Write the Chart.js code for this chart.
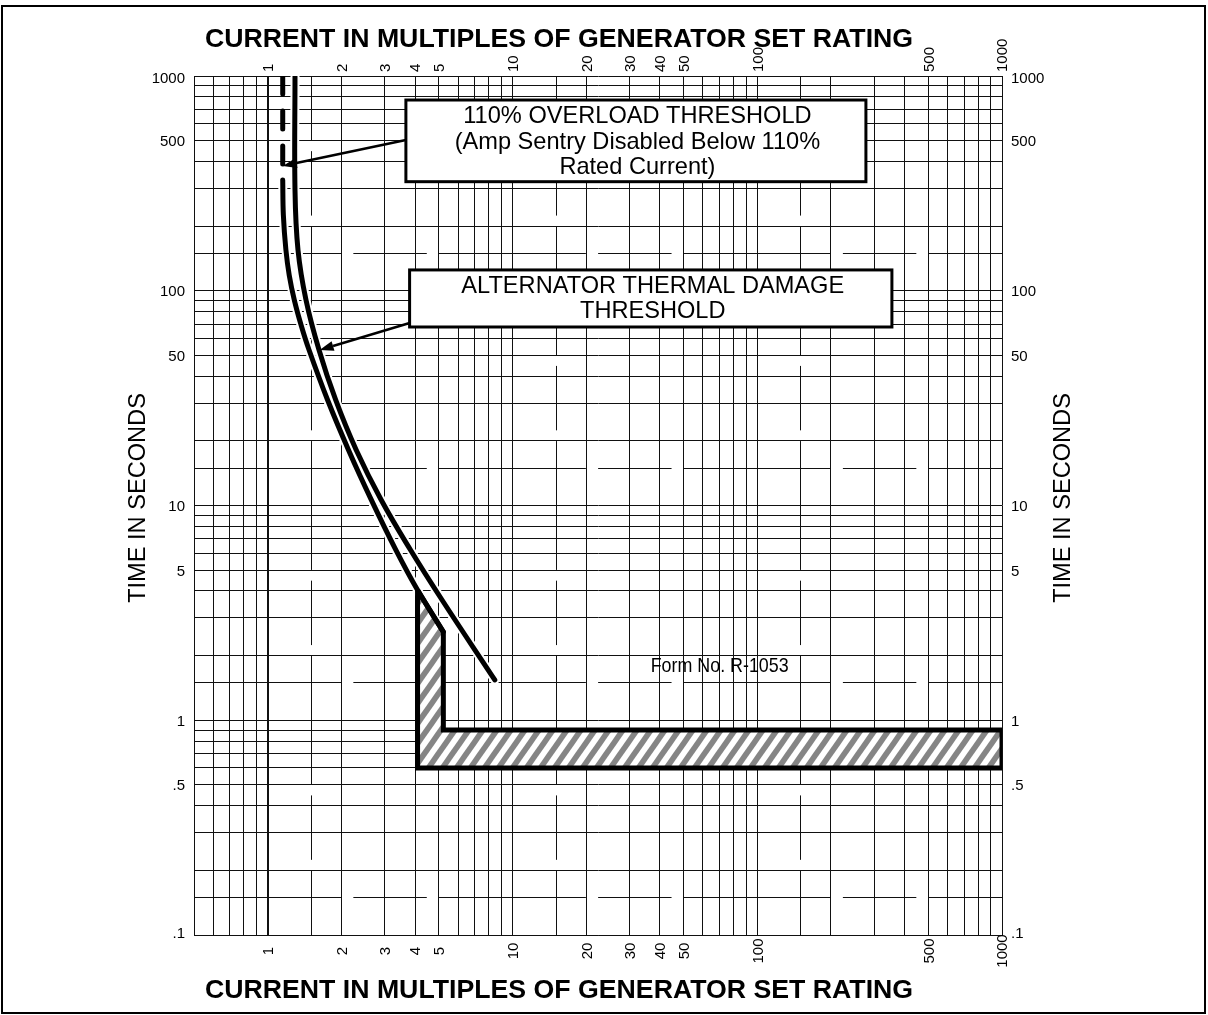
<!DOCTYPE html>
<html>
<head>
<meta charset="utf-8">
<title>Amp Sentry Time-Current Characteristic</title>
<script src="https://cdn.jsdelivr.net/npm/chart.js@4.4.1/dist/chart.umd.min.js"></script>
<style>
  html, body { margin: 0; padding: 0; background: #fff; }
  #wrap { position: relative; width: 1208px; height: 1015px; }
</style>
</head>
<body>
<div id="wrap"><canvas id="tcc" width="1208" height="1015"></canvas></div>
<script>
// log-log paper ranges
var xMin = 0.5, xMax = 1000;
var yMin = 0.1, yMax = 1000;

// grid lines of the paper
var xGrid = [0.5, 0.6, 0.7, 0.8, 0.9, 1, 2, 3, 4, 5, 6, 7, 8, 9, 10, 20, 30, 40, 50, 60, 70, 80, 90,
  100, 200, 300, 400, 500, 600, 700, 800, 900, 1000];
var yGrid = [0.1, 0.2, 0.3, 0.4, 0.5, 0.6, 0.7, 0.8, 0.9, 1, 2, 3, 4, 5, 6, 7, 8, 9, 10, 20, 30, 40, 50,
  60, 70, 80, 90, 100, 200, 300, 400, 500, 600, 700, 800, 900, 1000];
// the 1.5 lines are printed broken
var xHalfLines = [1.5, 15, 150];
var yHalfLines = [0.15, 1.5, 15, 150];

// tick labels
var xTickValues = [1, 2, 3, 4, 5, 10, 20, 30, 40, 50, 100, 500, 1000];
var yTickValues = [1000, 500, 100, 50, 10, 5, 1, 0.5, 0.1];
var yTickText = ["1000", "500", "100", "50", "10", "5", "1", ".5", ".1"];

// 110% overload threshold: dashed at the top, solid below
var overloadDashX = [1.152, 1.152];
var overloadDashY = [1000, 375];
var overloadX = [1.152, 1.159, 1.187, 1.225, 1.285, 1.369, 1.476, 1.757, 2.141, 2.654, 3.342, 4.095, 5.22];
var overloadY = [328, 225, 155, 118, 90.5, 69.3, 53, 31, 18.1, 10.6, 6.2, 4.04, 2.58];

// alternator thermal damage threshold
var damageX = [1.293, 1.293, 1.33, 1.434, 1.621, 1.896, 2.30, 2.91, 3.834, 5.158, 8.468];
var damageY = [1000, 294.5, 154.8, 90.55, 52.98, 31.0, 18.13, 10.61, 6.206, 3.63, 1.54];

// hatched short-circuit trip band
var bandX = [4.095, 5.22, 5.22, 1000, 1000, 4.095, 4.095];
var bandY = [4.04, 2.58, 0.9, 0.9, 0.6, 0.6, 4.04];

var axisTitle = "CURRENT IN MULTIPLES OF GENERATOR SET RATING";
var timeTitle = "TIME IN SECONDS";
var overloadNote = ["110% OVERLOAD THRESHOLD", "(Amp Sentry Disabled Below 110%", "Rated Current)"];
var damageNote = ["ALTERNATOR THERMAL DAMAGE", "THRESHOLD"];
var formNote = "Form No. R-1053";

// callouts, anchored in data units (x multiples, y seconds)
var notes = {
  overload: { box: [3.67, 773, 278, 322], from: [3.67, 504], to: [1.152, 381], base: [23.3, 49.3, 74.3], dx: 1.5 },
  damage: { box: [3.80, 125, 355, 67.8], from: [3.80, 70.8], to: [1.63, 53], base: [22.7, 48.3], dx: 2 },
  form: [36.7, 1.68]
};

var FONT = '"Liberation Sans", Arial, Helvetica, sans-serif';

function pts(xs, ys) {
  return xs.map(function (x, i) { return { x: x, y: ys[i] }; });
}

// diagonal stripes for the trip band
var hatch = (function () {
  var p = 14, h = 20;
  var c = document.createElement('canvas');
  c.width = p; c.height = h;
  var g = c.getContext('2d');
  g.fillStyle = '#fff';
  g.fillRect(0, 0, p, h);
  g.strokeStyle = '#858585';
  g.lineWidth = 5.6;
  for (var k = -1; k <= 1; k++) {
    g.beginPath();
    g.moveTo(k * p - p, 2 * h);
    g.lineTo(k * p + 2 * p, -h);
    g.stroke();
  }
  return g.createPattern(c, 'repeat');
})();

function logGaps(lo, hi) {
  // each decade has two short breaks
  var gaps = [];
  for (var d = Math.floor(lo) - 1; d <= Math.ceil(hi); d++) {
    gaps.push([d + 0.30, d + 0.35]);
    gaps.push([d + 0.65, d + 0.70]);
  }
  return gaps;
}

function brokenLine(ctx, scale, fixed, min, max, vertical) {
  var lo = Math.log10(min), hi = Math.log10(max);
  var gaps = logGaps(lo, hi);
  var start = lo;
  var pieces = [];
  gaps.forEach(function (g) {
    if (g[1] <= lo || g[0] >= hi) return;
    if (g[0] > start) pieces.push([start, g[0]]);
    start = Math.max(start, g[1]);
  });
  if (start < hi) pieces.push([start, hi]);
  var f = Math.round(fixed) + 0.5;
  ctx.beginPath();
  pieces.forEach(function (pc) {
    var a = scale.getPixelForValue(Math.pow(10, pc[0]));
    var b = scale.getPixelForValue(Math.pow(10, pc[1]));
    if (vertical) { ctx.moveTo(f, a); ctx.lineTo(f, b); }
    else { ctx.moveTo(a, f); ctx.lineTo(b, f); }
  });
  ctx.stroke();
}

function arrow(ctx, x0, y0, x1, y1) {
  var ang = Math.atan2(y1 - y0, x1 - x0);
  var len = 14, hw = 5;
  var bx = x1 - len * Math.cos(ang), by = y1 - len * Math.sin(ang);
  ctx.lineWidth = 2.5;
  ctx.beginPath();
  ctx.moveTo(x0, y0);
  ctx.lineTo(bx, by);
  ctx.stroke();
  ctx.beginPath();
  ctx.moveTo(x1, y1);
  ctx.lineTo(bx + hw * Math.sin(ang), by - hw * Math.cos(ang));
  ctx.lineTo(bx - hw * Math.sin(ang), by + hw * Math.cos(ang));
  ctx.closePath();
  ctx.fill();
}

function noteBox(ctx, xs, ys, n, lines) {
  var l = xs.getPixelForValue(n.box[0]), r = xs.getPixelForValue(n.box[2]);
  var t = ys.getPixelForValue(n.box[1]), b = ys.getPixelForValue(n.box[3]);
  ctx.fillStyle = '#fff';
  ctx.fillRect(l, t, r - l, b - t);
  ctx.strokeStyle = '#000';
  ctx.lineWidth = 3;
  ctx.strokeRect(l, t, r - l, b - t);
  ctx.fillStyle = '#000';
  ctx.font = '23.6px ' + FONT;
  ctx.textAlign = 'center';
  ctx.textBaseline = 'alphabetic';
  lines.forEach(function (s, i) {
    ctx.fillText(s, (l + r) / 2 + n.dx, t + n.base[i]);
  });
  arrow(ctx, xs.getPixelForValue(n.from[0]), ys.getPixelForValue(n.from[1]),
    xs.getPixelForValue(n.to[0]), ys.getPixelForValue(n.to[1]));
}

var paper = {
  id: 'paper',
  beforeDatasetsDraw: function (chart) {
    var ctx = chart.ctx, xs = chart.scales.x, ys = chart.scales.y;
    ctx.save();
    ctx.strokeStyle = '#111';
    ctx.lineWidth = 1;
    xHalfLines.forEach(function (v) { brokenLine(ctx, ys, xs.getPixelForValue(v), yMin, yMax, true); });
    yHalfLines.forEach(function (v) { brokenLine(ctx, xs, ys.getPixelForValue(v), xMin, xMax, false); });
    ctx.restore();
  },
  afterDraw: function (chart) {
    var ctx = chart.ctx, xs = chart.scales.x, ys = chart.scales.y, area = chart.chartArea;
    ctx.save();
    ctx.fillStyle = '#000';
    ctx.strokeStyle = '#000';

    // tick labels, 15px
    ctx.font = '15px ' + FONT;
    ctx.textBaseline = 'alphabetic';
    var capH = 15 * 0.716;
    yTickValues.forEach(function (v, i) {
      var py = ys.getPixelForValue(v) + capH / 2;
      if (i === 0) py += 2;
      if (i === yTickValues.length - 1) py -= 2;
      ctx.textAlign = 'right';
      ctx.fillText(yTickText[i], area.left - 9, py);
      ctx.textAlign = 'left';
      ctx.fillText(yTickText[i], area.right + 9, py);
    });
    xTickValues.forEach(function (v) {
      var px = xs.getPixelForValue(v) + capH / 2;
      ctx.save();
      ctx.translate(px, area.bottom + 16);
      ctx.rotate(-Math.PI / 2);
      ctx.textAlign = 'center';
      ctx.fillText(String(v), 0, 0);
      ctx.restore();
      ctx.save();
      ctx.translate(px, area.top - 4);
      ctx.rotate(-Math.PI / 2);
      ctx.textAlign = 'left';
      ctx.fillText(String(v), 0, 0);
      ctx.restore();
    });

    // axis titles
    ctx.font = 'bold 26.7px ' + FONT;
    ctx.textAlign = 'center';
    ctx.fillText(axisTitle, 559, 46.5);
    ctx.fillText(axisTitle, 559, 998);

    ctx.font = '23.6px ' + FONT;
    var midY = (area.top + area.bottom) / 2 - 7.5;
    [area.left - 57, area.right + 60].forEach(function (cx) {
      ctx.save();
      ctx.translate(cx + 23.6 * 0.716 / 2, midY);
      ctx.rotate(-Math.PI / 2);
      ctx.textAlign = 'center';
      ctx.fillText(timeTitle, 0, 0);
      ctx.restore();
    });

    // callouts
    noteBox(ctx, xs, ys, notes.overload, overloadNote);
    noteBox(ctx, xs, ys, notes.damage, damageNote);

    // form number, narrow face
    ctx.font = '21px "Liberation Sans Narrow", ' + FONT;
    ctx.textAlign = 'left';
    var w = ctx.measureText(formNote).width;
    ctx.save();
    ctx.translate(xs.getPixelForValue(notes.form[0]), ys.getPixelForValue(notes.form[1]));
    ctx.scale(138 / w, 1);
    ctx.fillStyle = '#000';
    ctx.fillText(formNote, 0, 0);
    ctx.restore();

    // sheet frame
    ctx.lineWidth = 2;
    ctx.strokeRect(2, 6, 1203, 1007);
    ctx.restore();
  }
};

function logAxis(min, max, grid, heavy) {
  return {
    type: 'logarithmic',
    min: min,
    max: max,
    afterBuildTicks: function (axis) {
      axis.ticks = grid.map(function (v) { return { value: v }; });
    },
    ticks: { display: false },
    grid: {
      drawTicks: false,
      color: '#111',
      lineWidth: function (c) { return c.tick && c.tick.value === heavy ? 2 : 1; }
    },
    border: { display: true, color: '#111', width: 1 }
  };
}

var curveStyle = {
  showLine: true, borderColor: '#000', borderWidth: 5, tension: 0.4,
  borderCapStyle: 'round', borderJoinStyle: 'round', pointRadius: 0
};

new Chart(document.getElementById('tcc'), {
  type: 'scatter',
  data: {
    datasets: [
      Object.assign({ data: pts(overloadX, overloadY), order: 1 }, curveStyle),
      Object.assign({ data: pts(damageX, damageY), order: 1 }, curveStyle),
      {
        data: pts(overloadDashX, overloadDashY), showLine: true, order: 2,
        borderColor: '#000', borderWidth: 5, borderDash: [18, 17],
        borderCapStyle: 'round', pointRadius: 0
      },
      {
        data: pts(bandX, bandY), showLine: true, order: 5,
        borderColor: '#000', borderWidth: 5, borderJoinStyle: 'miter',
        backgroundColor: hatch, fill: 'shape', tension: 0, pointRadius: 0
      },
      // white edging so grid lines stop short of the curves
      Object.assign({}, curveStyle, { data: pts(overloadX, overloadY), order: 6, borderColor: '#fff', borderWidth: 9 }),
      Object.assign({}, curveStyle, { data: pts(damageX, damageY), order: 6, borderColor: '#fff', borderWidth: 9 })
    ]
  },
  options: {
    responsive: false,
    animation: false,
    devicePixelRatio: 1,
    events: [],
    layout: { padding: { left: 194, top: 76, right: 206, bottom: 80 } },
    plugins: { legend: { display: false }, tooltip: { enabled: false }, title: { display: false } },
    scales: {
      x: logAxis(xMin, xMax, xGrid, 1),
      y: logAxis(yMin, yMax, yGrid, -1)
    }
  },
  plugins: [paper]
});
</script>
</body>
</html>
